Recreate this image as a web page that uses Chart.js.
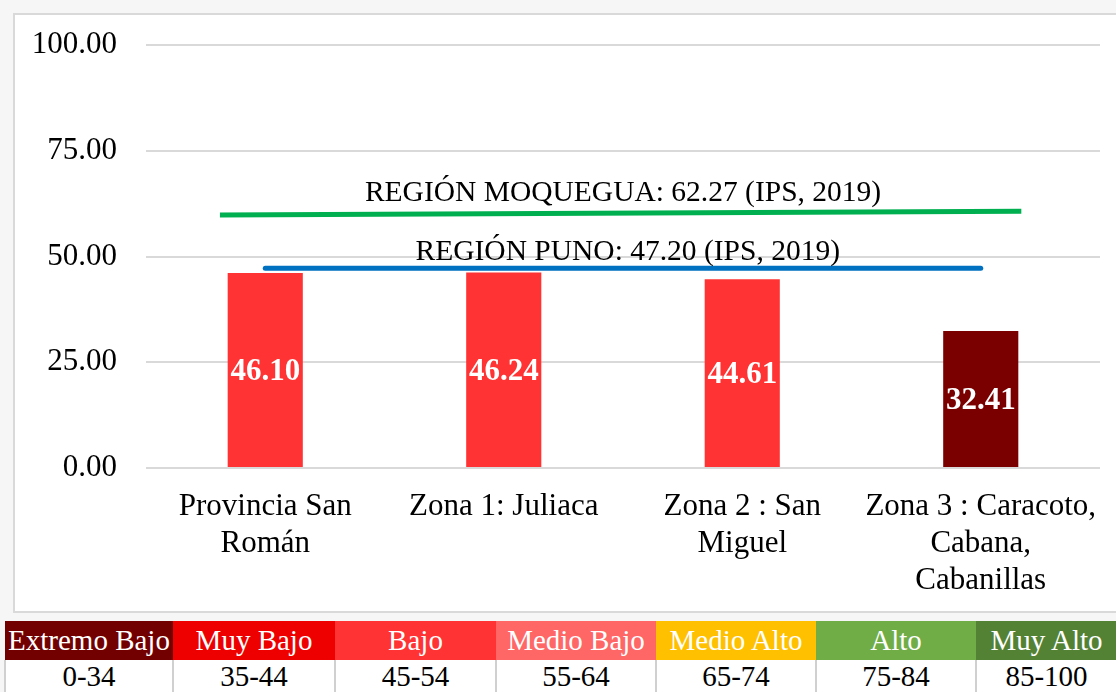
<!DOCTYPE html>
<html>
<head>
<meta charset="utf-8">
<script src="https://cdn.jsdelivr.net/npm/chart.js@4.4.1/dist/chart.umd.min.js"></script>
<style>
  html, body { margin: 0; padding: 0; }
  body { width: 1116px; height: 692px; overflow: hidden; background: #f6f6f6; position: relative; font-family: "Liberation Serif", "Times New Roman", serif; }
  #box { position: absolute; left: 13px; top: 13px; width: 1101px; height: 596px; border: 2px solid #d9d9d9; background: #fff; }
  #box canvas { display: block; }
  #escala { position: absolute; left: 4px; top: 621px; border-collapse: collapse; table-layout: fixed; width: 1112px; }
  #escala td { text-align: center; padding: 0; font-size: 29px; white-space: nowrap; overflow: hidden; }
  #escala tr.head td { color: #fff; height: 39px; }
  #escala tr.rango td { color: #000; background: #fff; height: 33px; border-left: 2px solid #d0d0d0; border-right: 2px solid #d0d0d0; }
</style>
</head>
<body>
<div id="box"><canvas id="grafico" width="1101" height="596"></canvas></div>
<table id="escala">
  <colgroup id="cols"></colgroup>
  <tr class="head" id="filaNiveles"></tr>
  <tr class="rango" id="filaRangos"></tr>
</table>

<script>
// ------------------------------------------------------
// Datos del gráfico (IPS por zona)
// ------------------------------------------------------
const zonas = [
  ["Provincia San", "Román"],
  "Zona 1: Juliaca",
  ["Zona 2 : San", "Miguel"],
  ["Zona 3 : Caracoto,", "Cabana,", "Cabanillas"]
];
const ips = [46.10, 46.24, 44.61, 32.41];
const coloresBarras = ["#ff3333", "#ff3333", "#ff3333", "#7a0000"];

// Líneas de referencia (trazadas a mano en el original)
const moqueguaX = [-0.19, 3.17];
const moqueguaY = [59.8, 60.7];
const moqueguaTexto = "REGIÓN MOQUEGUA: 62.27 (IPS, 2019)";
const punoX = [0, 3];
const punoY = [47.2, 47.2];
const punoTexto = "REGIÓN PUNO: 47.20 (IPS, 2019)";

const ticksY = [0, 25, 50, 75, 100];

// Escala de niveles
const niveles = ["Extremo Bajo", "Muy Bajo", "Bajo", "Medio Bajo", "Medio Alto", "Alto", "Muy Alto"];
const rangos = ["0-34", "35-44", "45-54", "55-64", "65-74", "75-84", "85-100"];
const coloresNiveles = ["#720000", "#ee0000", "#ff3333", "#ff6666", "#ffc000", "#70ad47", "#548235"];
const anchosNiveles = [168, 162, 161, 160, 160, 160, 141];

// ------------------------------------------------------
// Tabla de niveles
// ------------------------------------------------------
const cols = document.getElementById("cols");
const filaNiveles = document.getElementById("filaNiveles");
const filaRangos = document.getElementById("filaRangos");
niveles.forEach((n, i) => {
  const c = document.createElement("col");
  c.style.width = anchosNiveles[i] + "px";
  cols.appendChild(c);
  const td = document.createElement("td");
  td.textContent = n;
  td.style.background = coloresNiveles[i];
  filaNiveles.appendChild(td);
  const td2 = document.createElement("td");
  td2.textContent = rangos[i];
  filaRangos.appendChild(td2);
});

// ------------------------------------------------------
// Plugin: valores dentro de las barras y textos de las líneas
// ------------------------------------------------------
const etiquetas = {
  id: "etiquetas",
  afterDatasetsDraw(chart) {
    const ctx = chart.ctx;
    const meta = chart.getDatasetMeta(0);
    ctx.save();
    ctx.fillStyle = "#fff";
    ctx.font = "bold 31px 'Liberation Serif'";
    ctx.textAlign = "center";
    ctx.textBaseline = "middle";
    meta.data.forEach((bar, i) => {
      const mid = (bar.y + bar.base) / 2;
      ctx.fillText(ips[i].toFixed(2), bar.x, mid + 2);
    });

    const sx = chart.scales.x2;
    const sy = chart.scales.y;
    ctx.fillStyle = "#000";
    ctx.font = "29.5px 'Liberation Serif'";
    ctx.textBaseline = "alphabetic";
    ctx.fillText(moqueguaTexto, sx.getPixelForValue(1.5), sy.getPixelForValue(moqueguaY[0]) - 14);
    ctx.fillText(punoTexto, sx.getPixelForValue(1.52), sy.getPixelForValue(punoY[0]) - 8);
    ctx.restore();
  }
};

const ctx = document.getElementById("grafico").getContext("2d");
new Chart(ctx, {
  type: "bar",
  data: {
    labels: zonas,
    datasets: [
      {
        type: "bar",
        data: ips,
        backgroundColor: coloresBarras,
        barPercentage: 0.315,
        categoryPercentage: 1,
        grouped: false,
        order: 2
      },
      {
        type: "line",
        xAxisID: "x2",
        data: moqueguaX.map((x, i) => ({ x: x, y: moqueguaY[i] })),
        borderColor: "#00b050",
        borderWidth: 5,
        pointRadius: 0,
        order: 1
      },
      {
        type: "line",
        xAxisID: "x2",
        data: punoX.map((x, i) => ({ x: x, y: punoY[i] })),
        borderColor: "#0070c0",
        borderWidth: 5,
        borderCapStyle: "round",
        pointRadius: 0,
        order: 0
      }
    ]
  },
  options: {
    responsive: false,
    animation: false,
    layout: { padding: { left: 17, right: 16, top: 30, bottom: 11 } },
    plugins: { legend: { display: false }, tooltip: { enabled: false } },
    scales: {
      x: {
        grid: { display: false, drawTicks: false },
        border: { display: false },
        afterFit(scale) {
          scale.height = 132;
          scale.paddingLeft = 0;
          scale.paddingRight = 0;
        },
        ticks: {
          color: "#000",
          padding: 20,
          maxRotation: 0,
          autoSkip: false,
          font: { family: "Liberation Serif", size: 31, lineHeight: 1.2 }
        }
      },
      x2: {
        type: "linear",
        display: false,
        offset: false,
        min: -0.5,
        max: 3.5
      },
      y: {
        min: 0,
        max: 100,
        afterBuildTicks(scale) {
          scale.ticks = ticksY.map(v => ({ value: v }));
        },
        afterFit(scale) {
          scale.width = 114;
          scale.paddingTop = 0;
          scale.paddingBottom = 0;
        },
        grid: { color: "#d9d9d9", lineWidth: 2, drawTicks: false },
        border: { display: false },
        ticks: {
          color: "#000",
          padding: 29,
          font: { family: "Liberation Serif", size: 31 },
          callback: v => v.toFixed(2)
        }
      }
    }
  },
  plugins: [etiquetas]
});
</script>
</body>
</html>
